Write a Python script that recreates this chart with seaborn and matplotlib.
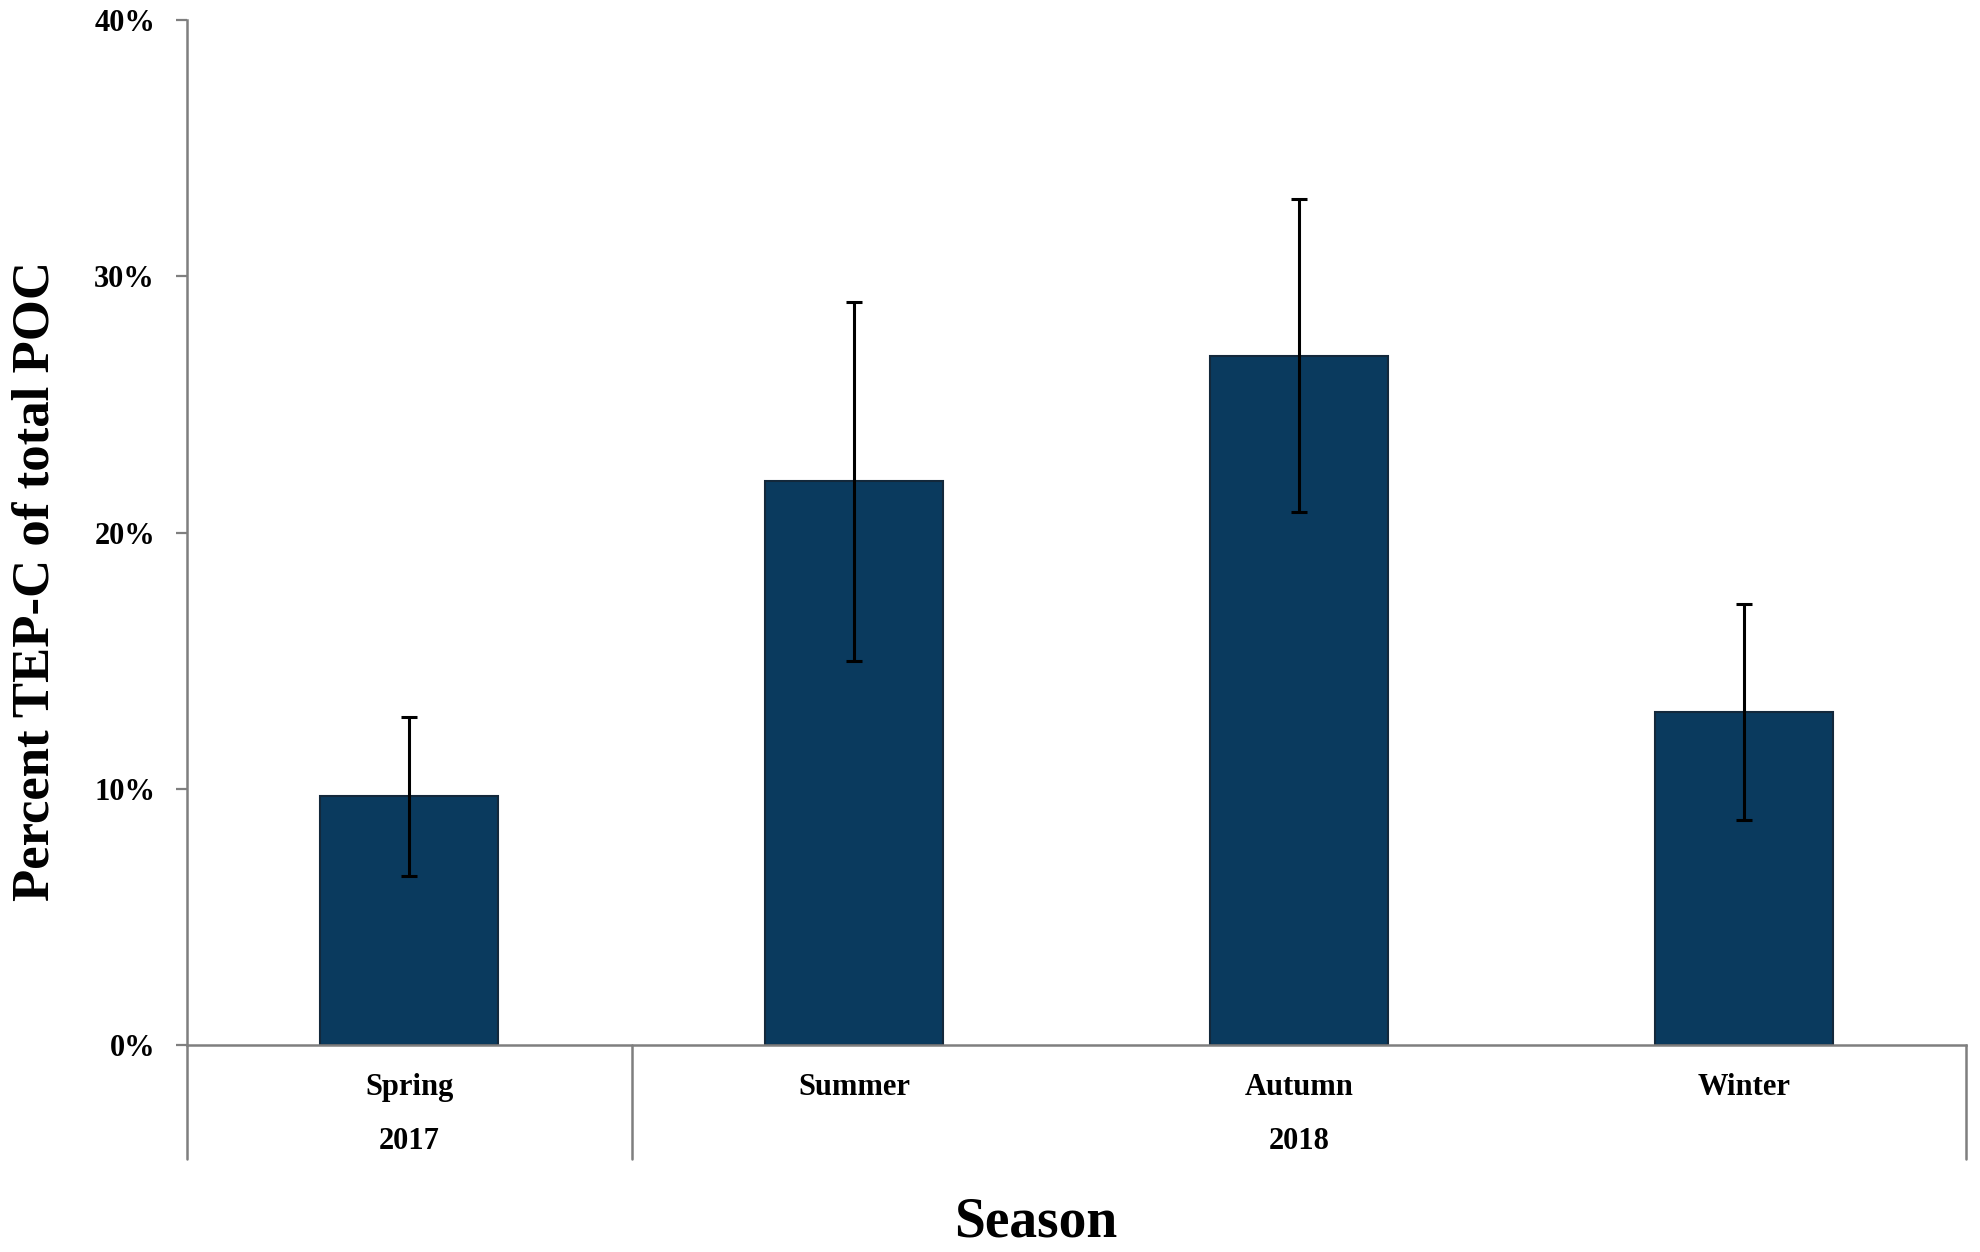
import matplotlib
matplotlib.use("Agg")
import matplotlib.pyplot as plt
import matplotlib.transforms as mtransforms
import seaborn as sns
import numpy as np
import pandas as pd

seasons = ["Spring", "Summer", "Autumn", "Winter"]
values = [9.7, 22.0, 26.9, 13.0]
errors = [3.1, 7.0, 6.1, 4.2]
year_labels = ["2017", "2018"]
year_groups = [["Spring"], ["Summer", "Autumn", "Winter"]]
y_ticks = [0, 10, 20, 30, 40]

sns.set_theme(style="white")
plt.rcParams["font.family"] = ["Liberation Serif", "DejaVu Serif"]
plt.rcParams["font.weight"] = "bold"
plt.rcParams["text.color"] = "black"
plt.rcParams["axes.labelcolor"] = "black"
plt.rcParams["xtick.labelcolor"] = "black"
plt.rcParams["ytick.labelcolor"] = "black"

df = pd.DataFrame({"Season": seasons, "Percent": values})

fig = plt.figure(figsize=(19.8, 12.52), dpi=100)
ax = fig.add_axes([187 / 1980, 1 - 1045 / 1252, (1966 - 187) / 1980, (1045 - 20) / 1252])

sns.barplot(data=df, x="Season", y="Percent", order=seasons, color="#0a3a5e",
            saturation=1, width=0.4, errorbar=None, edgecolor="#13283b",
            linewidth=1.5, ax=ax)

centers = [p.get_x() + p.get_width() / 2 for p in ax.patches]
ax.errorbar(centers, values, yerr=errors, fmt="none", ecolor="black",
            elinewidth=2.2, capsize=6, capthick=2.2, zorder=5)

ax.set_xlim(-0.5, len(seasons) - 0.5)
ax.set_ylim(0, 40)
ax.set_yticks(y_ticks)
ax.set_yticklabels([f"{t}%" for t in y_ticks], fontsize=22, fontweight="bold", color="black")
ax.set_xticks(range(len(seasons)))
ax.set_xticklabels(seasons, fontsize=22, fontweight="bold", color="black")
ax.tick_params(axis="x", length=0, pad=20)
ax.tick_params(axis="y", length=8, width=1.6, color="#7f7f7f", direction="out", pad=15, left=True)

for side in ["top", "right"]:
    ax.spines[side].set_visible(False)
for side in ["left", "bottom"]:
    ax.spines[side].set_color("#7f7f7f")
    ax.spines[side].set_linewidth(1.8)

# group separators below the axis
trans = mtransforms.blended_transform_factory(ax.transData, ax.transAxes)
bounds = [-0.5]
for g in year_groups:
    bounds.append(bounds[-1] + len(g))
for b in bounds:
    ax.plot([b, b], [0, -0.111], transform=trans, color="#7f7f7f", lw=1.8, clip_on=False)
for i, (lab, g) in enumerate(zip(year_labels, year_groups)):
    mid = (bounds[i] + bounds[i + 1]) / 2
    ax.text(mid, -0.094, lab, transform=trans, ha="center", va="center",
            fontsize=22, fontweight="bold", color="black")

ax.set_xlabel("Season", fontsize=40, fontweight="bold", color="black")
ax.xaxis.set_label_coords(0.477, -0.173)
ax.xaxis.label.set_va("center")
ax.set_ylabel("Percent TEP-C of total POC", fontsize=38, fontweight="bold", color="black")
ax.yaxis.set_label_coords(-0.0854, 0.453)
ax.yaxis.label.set_va("center")

fig.savefig("out.png", dpi=100)
